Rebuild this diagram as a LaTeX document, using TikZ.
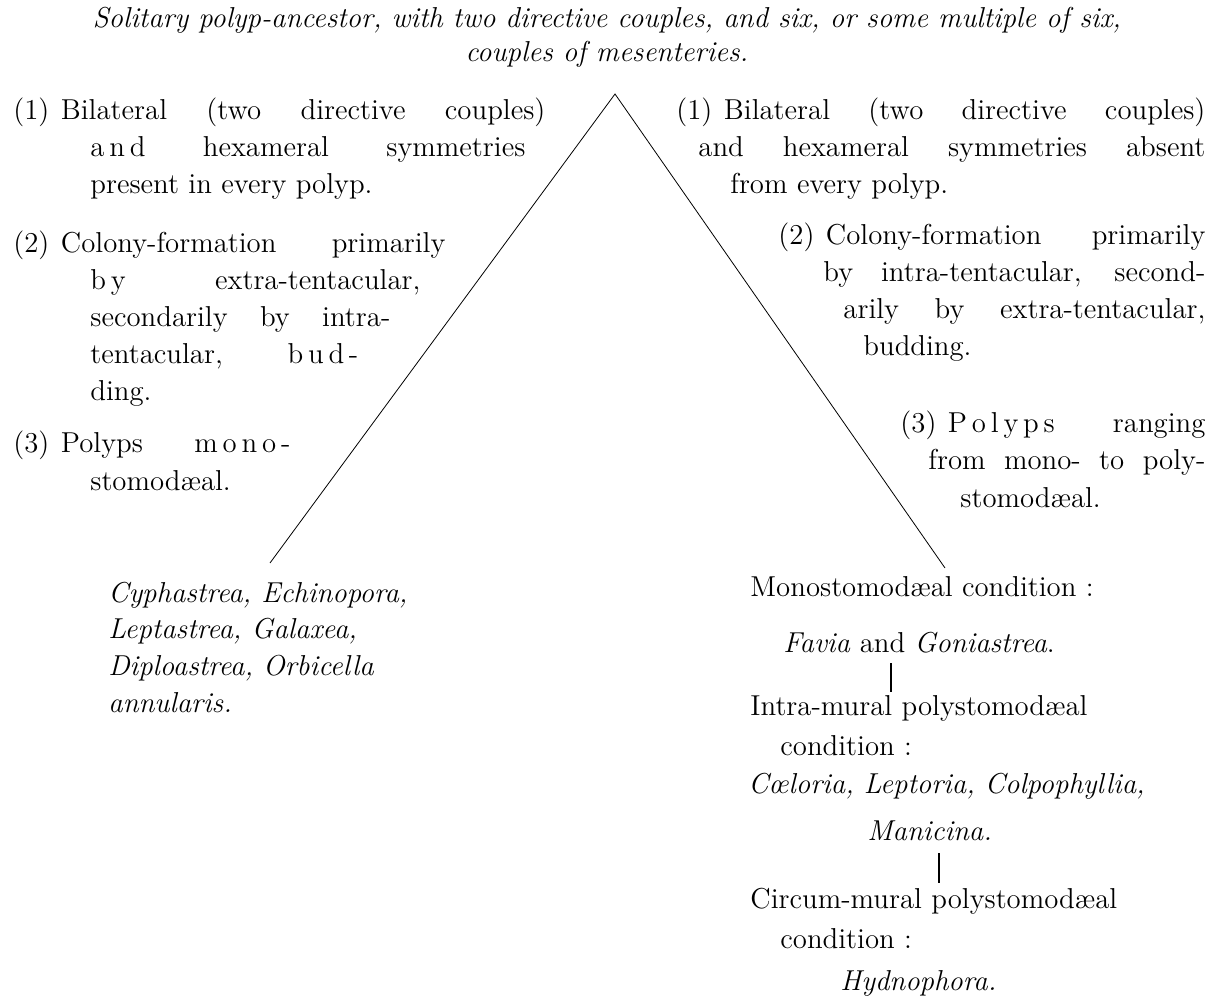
\documentclass[tikz,border=0pt]{standalone}
\usepackage{tikz}
\usetikzlibrary{calc}
\newlength{\px}
\setlength{\px}{0.5pt}
\newcommand{\jl}[2]{\makebox[#1\px][s]{#2}}
\newcommand{\ind}[1]{\hspace*{#1\px}}
\newcommand{\num}[1]{(#1)\hspace{0.4em}}

\begin{document}
\begin{tikzpicture}[x=0.5pt,y=-0.5pt,
  txt/.style={anchor=base west,inner sep=0pt,font=\fontsize{14.4}{18.5}\selectfont},
  bar/.style={line width=1.2pt}]
  \useasboundingbox (0,0) rectangle (1218,1004);
  % ancestor
  \node[txt,anchor=base,font=\fontsize{14.4}{17}\selectfont\itshape] (title) at (607,28)
    {\parbox[t]{1200\px}{\centering Solitary polyp-ancestor, with two directive couples, and six, or some multiple of six,\\couples of mesenteries.}};
  \coordinate (apex) at (615,94);
  \coordinate (lfoot) at (270,563);
  \coordinate (rfoot) at (945,568);
  \draw[line width=0.4pt] (lfoot) -- (apex) -- (rfoot);
  % left branch
  \node[txt] (l1) at (13,120) {\parbox[t]{600\px}{%
    \jl{532}{\num{1}Bilateral (two directive couples)}\\
    \ind{77}\jl{435}{a\,n\,d hexameral symmetries}\\
    \ind{77}present in every polyp.}};
  \node[txt] (l2) at (13,253) {\parbox[t]{600\px}{%
    \jl{432}{\num{2}Colony-formation primarily}\\
    \ind{77}\jl{330}{b\,y extra-tentacular,}\\
    \ind{77}\jl{300}{secondarily by intra-}\\
    \ind{77}\jl{268}{tentacular, b\,u\,d\,-}\\
    \ind{77}ding.}};
  \node[txt] (l3) at (13,453) {\parbox[t]{600\px}{%
    \jl{277}{\num{3}Polyps m\,o\,n\,o\,-}\\
    \ind{77}stomodæal.}};
  \node[txt,font=\fontsize{14.4}{18.4}\selectfont\itshape] (lgen) at (108,602) {\parbox[t]{600\px}{%
    Cyphastrea, Echinopora,\\
    Leptastrea, Galaxea,\\
    Diploastrea, Orbicella\\
    annularis.}};
  % right branch
  \node[txt] (r1) at (676,120) {\parbox[t]{600\px}{%
    \jl{529}{\num{1}Bilateral (two directive couples)}\\
    \ind{22}\jl{507}{and hexameral symmetries absent}\\
    \ind{54}from every polyp.}};
  \node[txt] (r2) at (778,245) {\parbox[t]{600\px}{%
    \jl{427}{\num{2}Colony-formation primarily}\\
    \ind{45}\jl{382}{by intra-tentacular, second-}\\
    \ind{65}\jl{362}{arily by extra-tentacular,}\\
    \ind{85}budding.}};
  \node[txt] (r3) at (900,433) {\parbox[t]{600\px}{%
    \jl{305}{\num{3}P\,o\,l\,y\,p\,s ranging}\\
    \ind{28}\jl{277}{from mono- to poly-}\\
    \ind{60}stomodæal.}};
  \node[txt] (mono) at (750,596) {Monostomodæal condition :};
  \node[txt] (favia) at (783,652) {\textit{Favia} and \textit{Goniastrea}.};
  \node[txt] (intra) at (750,715) {\parbox[t]{500\px}{%
    Intra-mural polystomodæal\\[1.5pt]
    \ind{30}condition :}};
  \node[txt,font=\fontsize{14.4}{18.5}\selectfont\itshape] (coel) at (748,793) {Cœloria, Leptoria, Colpophyllia,};
  \node[txt,font=\fontsize{14.4}{18.5}\selectfont\itshape] (mani) at (867,840) {Manicina.};
  \node[txt] (circ) at (750,908) {\parbox[t]{500\px}{%
    Circum-mural polystomodæal\\[1.5pt]
    \ind{30}condition :}};
  \node[txt,font=\fontsize{14.4}{18.5}\selectfont\itshape] (hydno) at (840,990) {Hydnophora.};
  \draw[bar] ($(favia.base west)+(108,11)$) -- ($(intra.base west)+(141,-23)$);
  \draw[bar] ($(mani.base west)+(72,13)$) -- ($(circ.base west)+(189,-25)$);
\end{tikzpicture}
\end{document}
